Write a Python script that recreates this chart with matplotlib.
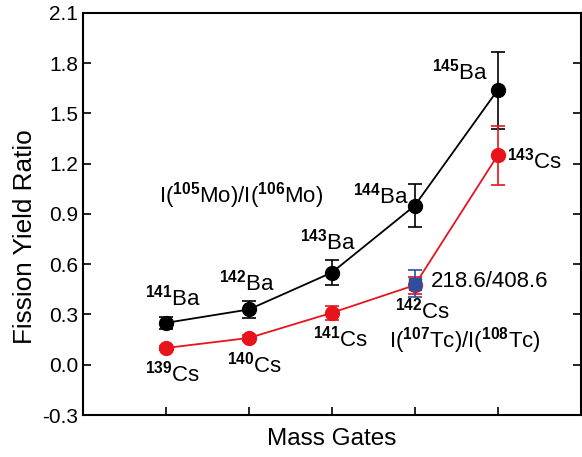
import matplotlib
matplotlib.use("Agg")
import matplotlib.pyplot as plt

plt.rcParams['font.family'] = ['Liberation Sans', 'DejaVu Sans']
plt.rcParams['mathtext.fontset'] = 'custom'
plt.rcParams['mathtext.rm'] = 'Liberation Sans'
plt.rcParams['mathtext.bf'] = 'Liberation Sans:bold'
plt.rcParams['mathtext.it'] = 'Liberation Sans:italic'

# Data
gates = [1, 2, 3, 4, 5]
ba_ratio = [0.25, 0.33, 0.55, 0.95, 1.64]
ba_err = [0.035, 0.048, 0.075, 0.13, 0.23]
cs_ratio = [0.10, 0.16, 0.31, 0.475, 1.25]
cs_err = [0.012, 0.02, 0.04, 0.05, 0.175]
tc_gate = [4]
tc_ratio = [0.485]
tc_err = [0.078]
ba_labels = ['141', '142', '143', '144', '145']
cs_labels = ['139', '140', '141', '142', '143']
yticks = [-0.3, 0.0, 0.3, 0.6, 0.9, 1.2, 1.5, 1.8, 2.1]

fig = plt.figure(figsize=(5.82, 4.57), dpi=100)
ax = fig.add_axes([0.1426, 0.0919, 0.855, 0.8797])

red = '#e8141c'
blue = '#2d4f9e'

ax.errorbar(gates, ba_ratio, yerr=ba_err, color='black', marker='o', ms=10,
            lw=1.3, capsize=5, elinewidth=1.2, capthick=1.2, zorder=3)
ax.errorbar(gates, cs_ratio, yerr=cs_err, color=red, marker='o', ms=10,
            lw=1.3, capsize=5, elinewidth=1.2, capthick=1.2, zorder=4)
ax.errorbar(tc_gate, tc_ratio, yerr=tc_err, color=blue, marker='s', ms=9,
            lw=0, capsize=5, elinewidth=1.2, capthick=1.2, zorder=5)

fs = 16
def lab(x, y, iso, el, ha='center'):
    ax.text(x, y, r'$^{\mathbf{' + iso + '}}$' + el, fontsize=fs, ha=ha, va='center')

# Ba labels
lab(1.08, 0.40, ba_labels[0], 'Ba')
lab(1.98, 0.49, ba_labels[1], 'Ba')
lab(2.96, 0.735, ba_labels[2], 'Ba')
lab(3.93, 1.01, ba_labels[3], 'Ba', ha='right')
lab(4.89, 1.75, ba_labels[4], 'Ba', ha='right')
# Cs labels
lab(1.08, -0.05, cs_labels[0], 'Cs')
lab(2.07, 0.0, cs_labels[1], 'Cs')
lab(3.11, 0.154, cs_labels[2], 'Cs')
lab(4.10, 0.325, cs_labels[3], 'Cs')
lab(5.11, 1.217, cs_labels[4], 'Cs', ha='left')

ax.text(4.2, 0.496, '218.6/408.6', fontsize=fs, ha='left', va='center')
ax.text(1.91, 1.013, r'I($^{\mathbf{105}}$Mo)/I($^{\mathbf{106}}$Mo)', fontsize=fs,
        ha='center', va='center')
ax.text(4.6, 0.145, r'I($^{\mathbf{107}}$Tc)/I($^{\mathbf{108}}$Tc)', fontsize=fs,
        ha='center', va='center')

ax.set_xlim(0, 6)
ax.set_ylim(-0.3, 2.1)
ax.set_xticks(gates)
ax.set_xticklabels([])
ax.set_yticks(yticks)
ax.set_yticklabels([f'{v:.1f}' for v in yticks])
ax.tick_params(direction='in', length=6, width=1.2, labelsize=15,
               left=True, right=True, bottom=True, top=False)
for s in ax.spines.values():
    s.set_linewidth(1.5)

ax.set_xlabel('Mass Gates', fontsize=17.5, labelpad=6)
ax.set_ylabel('Fission Yield Ratio', fontsize=18.8)
ax.yaxis.set_label_coords(-0.092, 0.443)

fig.savefig('out.png', dpi=100)
